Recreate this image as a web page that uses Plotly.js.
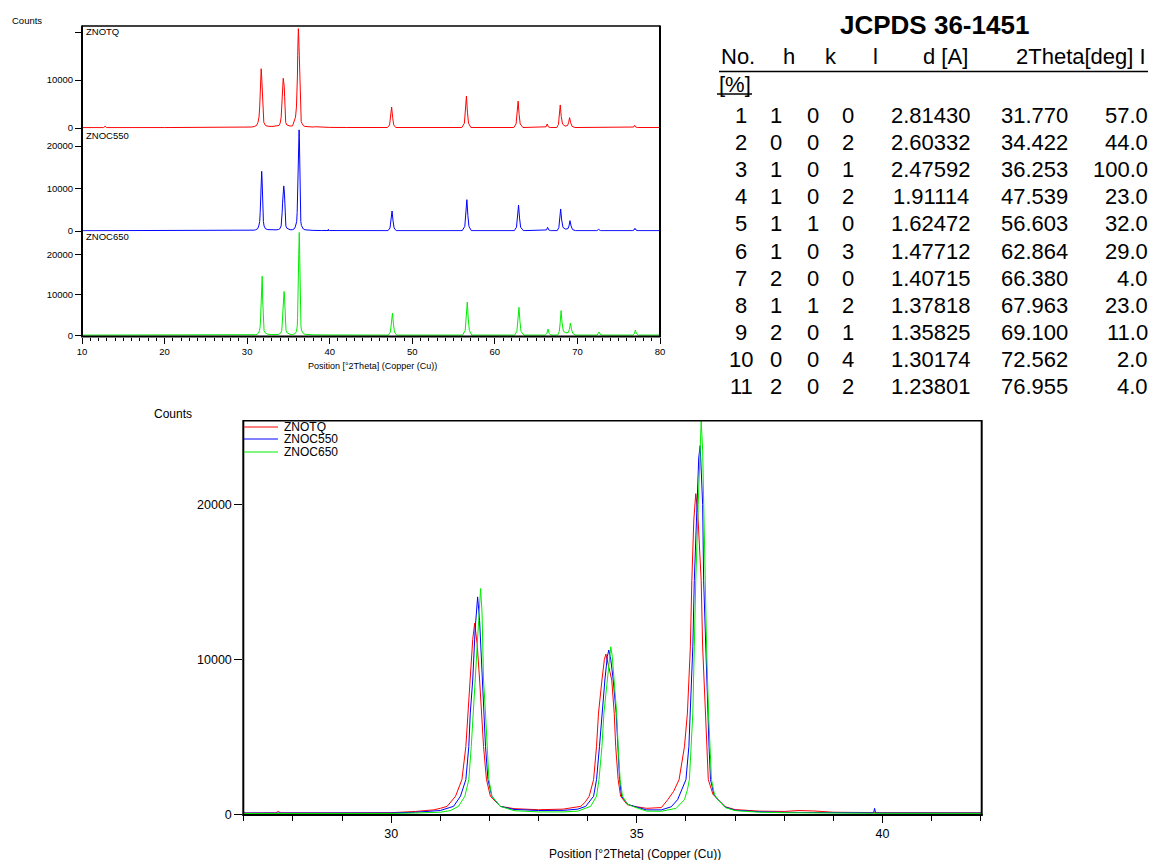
<!DOCTYPE html>
<html><head><meta charset="utf-8">
<script src="https://cdn.plot.ly/plotly-3.0.1.min.js"></script>
<style>html,body{margin:0;padding:0;background:#fff;}#chart{width:1153px;height:860px;}</style>
</head><body><div id="chart"></div>
<script>
// ---------- series names / colours ----------
const seriesNames = ['ZNOTQ', 'ZNOC550', 'ZNOC650'];
const seriesColors = ['#ff0000', '#0000ff', '#00ee00'];

// ---------- ZNOTQ (red) : 2Theta, counts ----------
const znotqX = [10,12.6,12.8,13.0,20,27,27.65,27.7,27.75,29,30,30.5,30.86,31.0,31.14,31.31,31.44,31.52,31.56,31.61,31.66,31.70,31.75,31.80,31.84,31.88,31.94,32.02,32.22,32.5,33.0,33.5,33.86,33.95,34.03,34.12,34.18,34.22,34.29,34.34,34.37,34.42,34.49,34.54,34.57,34.62,34.67,34.80,34.94,35.2,35.5,35.63,35.75,35.86,35.97,36.03,36.09,36.12,36.16,36.20,36.24,36.28,36.31,36.34,36.39,36.42,36.455,36.55,36.65,36.8,37.0,37.5,38.0,38.3,38.6,39.0,40.0,42.0,
  47.0,47.25,47.38,47.50,47.62,47.75,48.0,
  56.0,56.31,56.44,56.56,56.68,56.81,57.1,
  62.3,62.57,62.70,62.82,62.94,63.07,63.4,
  66.0,66.2,66.34,66.48,66.7,
  67.5,67.7,67.81,67.92,68.04,68.2,68.5,68.8,68.93,69.05,69.18,69.35,69.7,
  72.3,72.52,72.75,
  76.6,76.8,76.92,77.05,77.3,
  80];
const znotqY = [80,80,350,80,90,100,110,200,110,110,120,200,300,400,530,1180,2250,4390,6540,8680,11300,12350,11000,8680,6540,4390,2250,1180,530,380,310,350,530,800,1180,2250,4390,6540,8680,10000,10350,9700,8680,6540,4390,2250,1180,650,530,400,450,960,1500,2250,4390,6540,10820,15110,19000,20700,19500,17000,15110,10820,6540,4390,2250,1300,960,500,320,220,200,260,230,150,120,110,
  100,650,2200,4375,2200,650,100,
  100,1000,3300,6660,3300,1000,100,
  100,850,2800,5600,2800,850,100,
  100,250,830,250,100,
  100,750,2400,4800,2400,800,400,500,1100,2150,1100,350,100,
  100,200,100,
  100,200,560,200,100,
  100];

// ---------- ZNOC550 (blue) ----------
const znoc550X = [10,20,27,29,30,30.5,30.86,31.0,31.27,31.41,31.52,31.58,31.61,31.66,31.71,31.76,31.80,31.85,31.88,31.92,31.97,32.05,32.22,32.5,33.0,33.5,33.8,33.96,34.12,34.18,34.24,34.29,34.35,34.40,34.43,34.47,34.52,34.58,34.61,34.65,34.69,34.82,34.95,35.2,35.5,35.7,35.83,35.92,36.00,36.06,36.09,36.14,36.17,36.22,36.26,36.29,36.32,36.34,36.36,36.40,36.44,36.47,36.50,36.57,36.65,36.8,37.0,37.5,38.0,39.0,39.82,39.84,39.86,40.0,42.0,
  47.05,47.30,47.43,47.55,47.67,47.80,48.05,
  56.05,56.36,56.49,56.61,56.73,56.86,57.15,
  62.35,62.62,62.75,62.87,62.99,63.12,63.45,
  66.05,66.25,66.39,66.53,66.75,
  67.55,67.75,67.86,67.97,68.09,68.25,68.55,68.85,68.98,69.10,69.23,69.40,69.75,
  72.35,72.57,72.8,
  76.65,76.85,76.97,77.1,77.35,
  80];
const znoc550Y = [60,70,80,80,100,150,200,260,530,1180,2250,4390,6540,8680,12000,14040,12500,8680,6540,4390,2250,1180,530,330,260,270,350,530,1180,2250,4390,6540,8680,10200,10610,10000,8680,6540,4390,2250,1180,650,530,300,300,500,960,1600,2250,4390,6540,10820,15110,20000,23000,23800,22000,20000,15110,10820,6540,4390,2250,1300,960,480,280,180,140,110,110,400,110,100,90,
  80,700,2350,4700,2350,700,80,
  80,1100,3700,7370,3700,1100,80,
  80,900,3050,6100,3050,900,80,
  80,250,860,250,80,
  80,800,2600,5180,2600,850,450,550,1200,2430,1200,350,80,
  80,390,80,
  80,220,630,220,80,
  80];

// ---------- ZNOC650 (green) ----------
const znoc650X = [10,20,27,29,30,30.5,31.0,31.2,31.37,31.50,31.58,31.63,31.67,31.71,31.77,31.82,31.85,31.88,31.92,31.95,31.99,32.05,32.22,32.5,33.0,33.5,33.8,34.06,34.18,34.23,34.29,34.33,34.40,34.44,34.47,34.50,34.54,34.59,34.62,34.66,34.71,34.80,34.91,35.2,35.5,35.8,35.97,36.03,36.07,36.11,36.14,36.17,36.20,36.25,36.29,36.31,36.34,36.36,36.39,36.42,36.46,36.49,36.52,36.58,36.65,36.8,37.0,37.5,38.0,40.0,42.0,
  47.10,47.35,47.48,47.60,47.72,47.85,48.10,
  56.10,56.41,56.54,56.66,56.78,56.91,57.20,
  62.40,62.67,62.80,62.92,63.04,63.17,63.50,
  66.10,66.30,66.44,66.58,66.80,
  67.60,67.80,67.91,68.02,68.14,68.30,68.60,68.90,69.03,69.15,69.28,69.45,69.80,
  72.40,72.62,72.85,
  76.70,76.90,77.02,77.15,77.40,
  80];
const znoc650Y = [50,50,60,60,70,100,150,250,530,1180,2250,4390,6540,8680,12500,14580,13000,8680,6540,4390,2250,1180,530,250,170,170,220,530,1180,2250,4390,6540,8680,10300,10820,10200,8680,6540,4390,2250,1180,700,530,220,210,400,960,1600,2250,4390,6540,10820,15110,20000,24000,25400,23500,20000,15110,10820,6540,4390,2250,1300,960,450,250,150,120,80,70,
  60,800,2750,5500,2750,800,60,
  60,1200,4100,8200,4100,1200,60,
  60,1000,3450,6900,3450,1000,60,
  60,450,1550,450,60,
  60,900,3050,6100,3050,1000,600,700,1500,3040,1500,450,60,
  60,800,60,
  60,400,1300,400,60,
  60];

// ---------- JCPDS 36-1451 reference table ----------
const pdfTitle = 'JCPDS 36-1451';
const pdfNo = [1,2,3,4,5,6,7,8,9,10,11];
const pdfH = [1,0,1,1,1,1,2,1,2,0,2];
const pdfK = [0,0,0,0,1,0,0,1,0,0,0];
const pdfL = [0,2,1,2,0,3,0,2,1,4,2];
const pdfD = [2.81430,2.60332,2.47592,1.91114,1.62472,1.47712,1.40715,1.37818,1.35825,1.30174,1.23801];
const pdfTwoTheta = [31.770,34.422,36.253,47.539,56.603,62.864,66.380,67.963,69.100,72.562,76.955];
const pdfI = [57.0,44.0,100.0,23.0,32.0,29.0,4.0,23.0,11.0,2.0,4.0];

// ---------- axis labels / ticks ----------
const xTitle = 'Position [°2Theta] (Copper (Cu))';
const yTitle = 'Counts';
const countTicks = [0, 10000, 20000];
const countTickText = ['0', '10000', '20000'];

// ---------- layout helpers ----------
const W = 1153, H = 860;
const fx = p => p / W;
const fy = p => 1 - p / H;
const FONT = 'Liberation Sans, Arial, Helvetica, sans-serif';
const allX = [znotqX, znoc550X, znoc650X];
const allY = [znotqY, znoc550Y, znoc650Y];

const traces = [];
const topAxes = ['y', 'y2', 'y3'];
for (let i = 0; i < 3; i++) {
  traces.push({x: allX[i], y: allY[i], xaxis: 'x', yaxis: topAxes[i], type: 'scatter', mode: 'lines',
    line: {color: seriesColors[i], width: 1}, name: seriesNames[i], hoverinfo: 'skip'});
}
for (let i = 0; i < 3; i++) {
  traces.push({x: allX[i], y: allY[i], xaxis: 'x2', yaxis: 'y4', type: 'scatter', mode: 'lines',
    line: {color: seriesColors[i], width: 1}, name: seriesNames[i], hoverinfo: 'skip'});
}

const yCommon = (sz, len) => ({ticks: 'outside', ticklen: len, tickwidth: 1, tickcolor: '#000',
  showgrid: false, zeroline: false, showline: false, tickfont: {size: sz, color: '#000', family: FONT}, fixedrange: true,
  tickvals: countTicks, ticktext: countTickText});

const annotations = [];
const ann = (text, x, y, xanchor, size, extra) => annotations.push(Object.assign({
  text: text, x: fx(x), y: fy(y), xref: 'paper', yref: 'paper', xanchor: xanchor, yanchor: 'middle',
  showarrow: false, font: {size: size, color: '#000', family: FONT}}, extra || {}));

// top chart labels
ann(yTitle, 10, 20, 'left', 9.5);
ann(seriesNames[0], 84, 31.5, 'left', 9.5);
ann(seriesNames[1], 84, 135, 'left', 9.5);
ann(seriesNames[2], 84, 237, 'left', 9.5);
ann(xTitle, 373, 366.5, 'center', 9);
// bottom chart labels
ann(yTitle, 152, 414, 'left', 12);
ann(xTitle, 635, 854, 'center', 12);
const legY = [427, 439, 452];
for (let i = 0; i < 3; i++) ann(seriesNames[i], 282, legY[i], 'left', 12);

// table
ann('<b>' + pdfTitle + '</b>', 934, 25, 'center', 26);
const hY = 56;
ann('No.', 719, hY, 'left', 22);
ann('h', 789, hY, 'center', 22);
ann('k', 831, hY, 'center', 22);
ann('l', 875, hY, 'center', 22);
ann('d [A]', 970, hY, 'right', 22);
ann('2Theta[deg] I', 1148, hY, 'right', 22);
ann('[%]', 717, 85, 'left', 22);
for (let i = 0; i < pdfNo.length; i++) {
  const y = 115 + i * 27.2;
  ann(String(pdfNo[i]), 741, y, 'center', 22);
  ann(String(pdfH[i]), 776, y, 'center', 22);
  ann(String(pdfK[i]), 813, y, 'center', 22);
  ann(String(pdfL[i]), 848, y, 'center', 22);
  ann(pdfD[i].toFixed(5), 931, y, 'center', 22);
  ann(pdfTwoTheta[i].toFixed(3), 1034, y, 'center', 22);
  ann(pdfI[i].toFixed(1), 1150, y, 'right', 22);
}

const shapes = [];
const seg = (x0, y0, x1, y1, color, w) => shapes.push({type: 'line', xref: 'paper', yref: 'paper',
  x0: fx(x0), y0: fy(y0), x1: fx(x1), y1: fy(y1), line: {color: color, width: w}});
// top chart frame
seg(82, 26, 660, 26, '#000', 1.5);
seg(82, 25.5, 82, 337, '#000', 2);
seg(660, 25.5, 660, 337, '#000', 2);
seg(81, 336.5, 661, 336.5, '#000', 2);
// bottom chart frame
seg(243.3, 420.7, 981.7, 420.7, '#000', 1.5);
seg(243.3, 420, 243.3, 815.5, '#000', 2);
seg(981.7, 420, 981.7, 815.5, '#000', 2);
seg(242.3, 815, 982.7, 815, '#000', 2);
// legend sample lines
for (let i = 0; i < 3; i++) seg(244, legY[i], 278, legY[i], seriesColors[i], 1);
// table underlines
seg(719, 71.5, 1148, 71.5, '#000', 1.5);
seg(717, 94, 752, 94, '#000', 1.5);

const layout = {
  width: W, height: H, margin: {l: 0, r: 0, t: 0, b: 0},
  paper_bgcolor: '#fff', plot_bgcolor: '#fff', showlegend: false,
  font: {family: FONT, color: '#000'},
  xaxis: {domain: [fx(82), fx(660)], range: [10, 80], anchor: 'y3', tick0: 10, dtick: 10,
    ticks: 'outside', ticklen: 6, tickwidth: 1, tickcolor: '#000', showline: false, showgrid: false, zeroline: false,
    tickfont: {size: 9.5, color: '#000', family: FONT}, fixedrange: true,
    minor: {ticks: 'outside', tick0: 10, dtick: 1, ticklen: 3, tickwidth: 1, tickcolor: '#000', showgrid: false}},
  yaxis: Object.assign(yCommon(9.5, 6), {domain: [fy(128.5), fy(26)], range: [-104, 21250], anchor: 'x',
    ticktext: ['0', '10000', '']}),
  yaxis2: Object.assign(yCommon(9.5, 6), {domain: [fy(231.5), fy(128.5)], range: [-118, 24118], anchor: 'x'}),
  yaxis3: Object.assign(yCommon(9.5, 6), {domain: [fy(336.5), fy(231.5)], range: [-296, 25630], anchor: 'x'}),
  xaxis2: {domain: [fx(243.3), fx(981.7)], range: [26.99, 42.02], anchor: 'y4', tick0: 0, dtick: 5,
    ticks: 'outside', ticklen: 7, tickwidth: 1, tickcolor: '#000', showline: false, showgrid: false, zeroline: false,
    tickfont: {size: 12.5, color: '#000', family: FONT}, fixedrange: true,
    minor: {ticks: 'outside', tick0: 0, dtick: 1, ticklen: 5, tickwidth: 1, tickcolor: '#000', showgrid: false}},
  yaxis4: Object.assign(yCommon(12.5, 8), {domain: [fy(814.7), fy(420.7)], range: [-10, 25406], anchor: 'x2'}),
  annotations: annotations,
  shapes: shapes
};

Plotly.newPlot('chart', traces, layout, {staticPlot: true, displayModeBar: false});
</script>
</body></html>
